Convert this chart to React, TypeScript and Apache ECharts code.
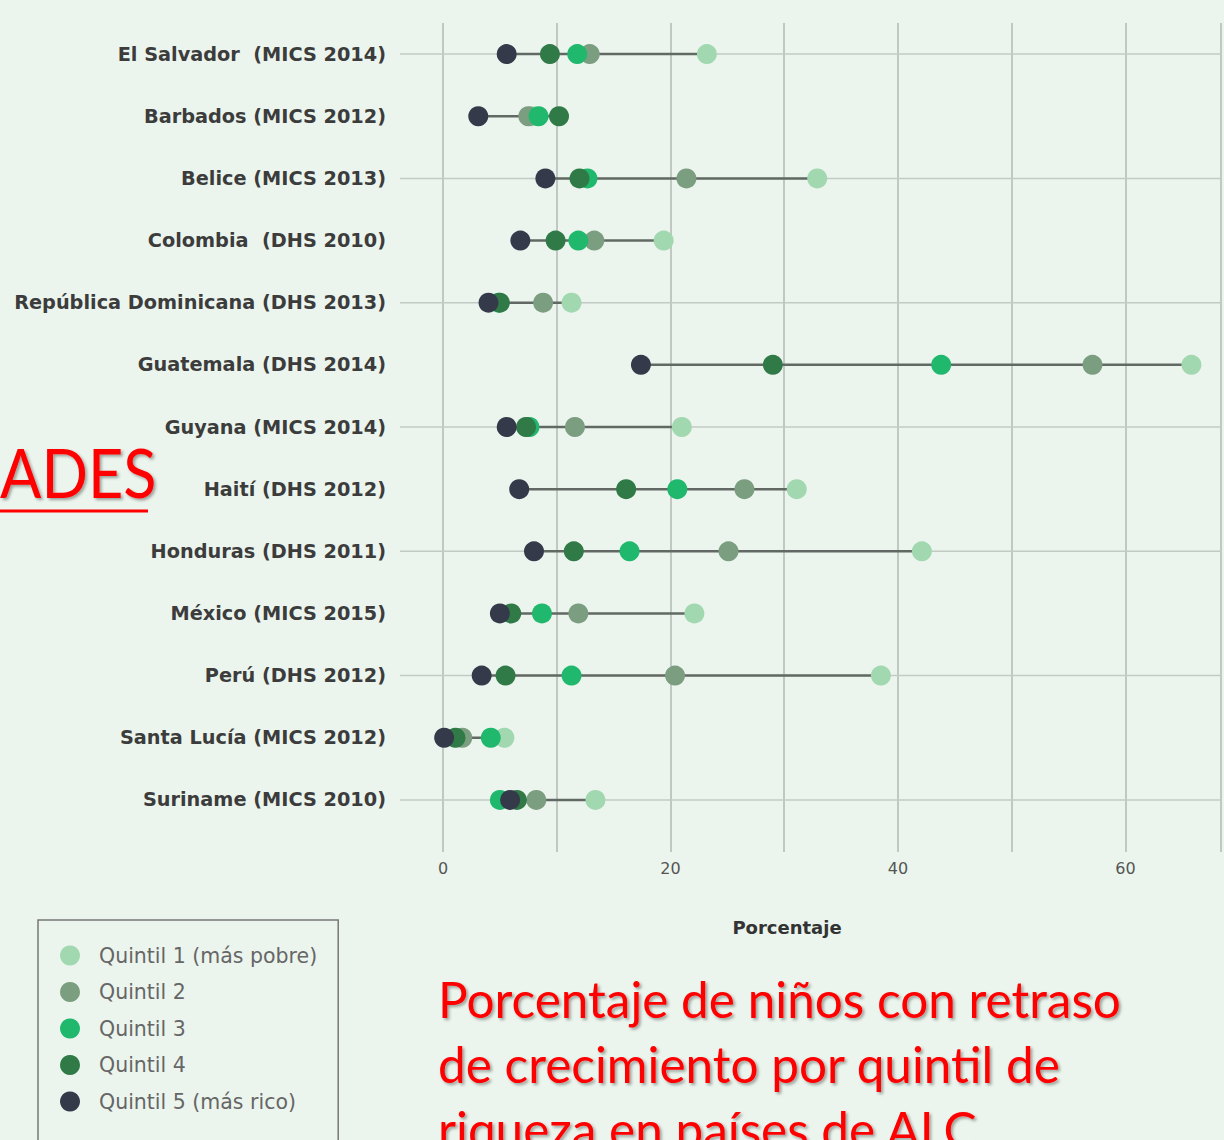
import React, { useEffect, useRef } from "react";
import * as echarts from "echarts";

const categories = [
  "El Salvador  (MICS 2014)",
  "Barbados (MICS 2012)",
  "Belice (MICS 2013)",
  "Colombia  (DHS 2010)",
  "República Dominicana (DHS 2013)",
  "Guatemala (DHS 2014)",
  "Guyana (MICS 2014)",
  "Haití (DHS 2012)",
  "Honduras (DHS 2011)",
  "México (MICS 2015)",
  "Perú (DHS 2012)",
  "Santa Lucía (MICS 2012)",
  "Suriname (MICS 2010)",
];

const quintilNames = [
  "Quintil 1 (más pobre)",
  "Quintil 2",
  "Quintil 3",
  "Quintil 4",
  "Quintil 5 (más rico)",
];

const q1 = [23.2, 7.8, 32.9, 19.4, 11.3, 65.8, 21.0, 31.1, 42.1, 22.1, 38.5, 5.4, 13.4];
const q2 = [12.9, 7.5, 21.4, 13.3, 8.8, 57.1, 11.6, 26.5, 25.1, 11.9, 20.4, 1.7, 8.2];
const q3 = [11.8, 8.4, 12.7, 11.9, 4.9, 43.8, 7.6, 20.6, 16.4, 8.7, 11.3, 4.2, 5.0];
const q4 = [9.4, 10.2, 12.0, 9.9, 5.0, 29.0, 7.3, 16.1, 11.5, 6.0, 5.5, 1.1, 6.5];
const q5 = [5.6, 3.1, 9.0, 6.8, 4.0, 17.4, 5.6, 6.7, 8.0, 5.0, 3.4, 0.1, 5.9];

const xTickLabels = [0, 20, 40, 60];
const axisTitle = "Porcentaje";
const sideWord = "ADES";
const caption = [
  "Porcentaje de niños con retraso",
  "de crecimiento por quintil de",
  "riqueza en países de ALC",
];

const colors = ["#a2d8b0", "#7c9e80", "#1fb86c", "#2f7a47", "#343a4a"];
const BG = "#ebf5ed";

export default function App() {
  const ref = useRef<HTMLDivElement>(null);
  useEffect(() => {
    document.body.style.margin = "0";
    document.body.style.background = BG;
    const chart = echarts.init(ref.current!, null, { renderer: "svg" });
    const allQ = [q1, q2, q3, q4, q5];
    const ranges = categories.map((_, i) => {
      const vals = allQ.map((q) => q[i]);
      return [Math.min(...vals), Math.max(...vals), i];
    });
    const rowLines = categories.map((_, i) => [0, i]).filter((_, i) => i % 2 === 0);

    const scatterSeries = allQ.map((q, k) => ({
      type: "scatter",
      name: quintilNames[k],
      data: q.map((v, i) => [v, i]),
      symbol: "circle",
      symbolSize: 20,
      itemStyle: { color: colors[k], opacity: 1 },
      z: 5 + k,
      clip: false,
    }));

    chart.setOption({
      animation: false,
      backgroundColor: BG,
      grid: { left: 443, right: -6, top: 23, bottom: 309, containLabel: false },
      xAxis: {
        type: "value",
        min: 0,
        max: 68.4,
        interval: 10,
        axisLine: { show: false },
        axisTick: { show: true, length: 21, lineStyle: { color: "#b3b8b4", width: 1.5 } },
        splitLine: { show: true, lineStyle: { color: "#b3b8b4", width: 1.5 } },
        axisLabel: {
          margin: 29,
          color: "#555",
          fontFamily: "DejaVu Sans",
          fontSize: 16,
          formatter: (v: number) => (xTickLabels.includes(v) ? String(v) : ""),
        },
        name: axisTitle,
        nameLocation: "middle",
        nameGap: 87,
        nameTextStyle: {
          color: "#333",
          fontFamily: "DejaVu Sans",
          fontWeight: "bold",
          fontSize: 18,
          padding: [0, 90, 0, 0],
        },
      },
      yAxis: {
        type: "category",
        data: categories,
        inverse: true,
        axisLine: { show: false },
        axisTick: { show: false },
        splitLine: { show: false },
        axisLabel: {
          margin: 57,
          color: "#3c3c3c",
          fontFamily: "DejaVu Sans",
          fontWeight: "bold",
          fontSize: 19.3,
        },
      },
      legend: {
        orient: "vertical",
        left: 38,
        top: 920,
        height: 200,
        data: quintilNames,
        icon: "circle",
        itemWidth: 48,
        itemHeight: 20,
        itemGap: 15.5,
        padding: [25, 21, 40, 22],
        borderColor: "#777",
        borderWidth: 1.5,
        textStyle: { color: "#666", fontFamily: "DejaVu Sans", fontSize: 20.5 },
      },
      series: [
        {
          type: "custom",
          name: "rowlines",
          data: rowLines,
          encode: { x: 0, y: 1 },
          z: 1,
          silent: true,
          clip: false,
          renderItem: (params: any, api: any) => {
            const p = api.coord([0, api.value(1)]);
            const cs = params.coordSys;
            return {
              type: "line",
              shape: { x1: cs.x - 43, y1: p[1], x2: cs.x + cs.width, y2: p[1] },
              style: { stroke: "#c3cac5", lineWidth: 1.5 },
            };
          },
        },
        {
          type: "custom",
          name: "connectors",
          data: ranges,
          encode: { x: [0, 1], y: 2 },
          z: 2,
          silent: true,
          clip: false,
          renderItem: (_params: any, api: any) => {
            const s = api.coord([api.value(0), api.value(2)]);
            const e = api.coord([api.value(1), api.value(2)]);
            return {
              type: "line",
              shape: { x1: s[0], y1: s[1], x2: e[0], y2: e[1] },
              style: { stroke: "#626863", lineWidth: 2.5 },
            };
          },
        },
        ...scatterSeries,
      ],
      graphic: [
        {
          type: "text",
          x: 0,
          y: 438,
          scaleX: 0.9,
          style: {
            text: sideWord,
            fill: "#ff0000",
            font: "68px Lato",
            textShadowColor: "rgba(0,0,0,0.35)",
            textShadowOffsetX: 2,
            textShadowOffsetY: 2,
            textShadowBlur: 3,
          },
        },
        {
          type: "line",
          shape: { x1: 0, y1: 511, x2: 148, y2: 511 },
          style: { stroke: "#ff0000", lineWidth: 3 },
        },
        {
          type: "text",
          left: 438,
          top: 966,
          style: {
            text: caption.join("\n"),
            fill: "#ff0000",
            font: "49.5px Lato",
            lineHeight: 65,
            textShadowColor: "rgba(0,0,0,0.35)",
            textShadowOffsetX: 2,
            textShadowOffsetY: 2,
            textShadowBlur: 3,
          },
        },
      ],
    });
    return () => chart.dispose();
  }, []);
  return <div ref={ref} style={{ width: 1224, height: 1140, background: BG }} />;
}
